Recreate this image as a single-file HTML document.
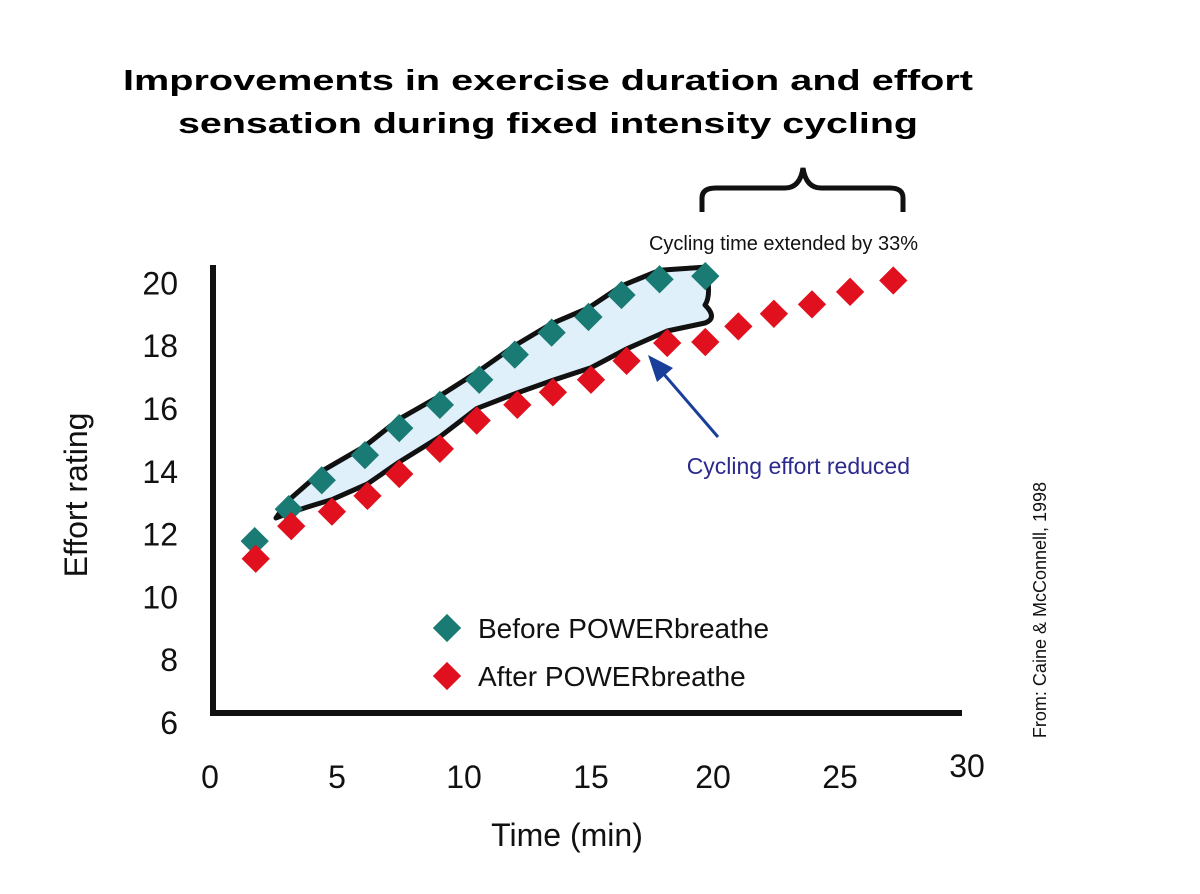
<!DOCTYPE html>
<html><head><meta charset="utf-8"><style>
body{margin:0;background:#fff;width:1200px;height:894px;overflow:hidden}
svg{display:block;font-family:"Liberation Sans",sans-serif}
</style></head><body>
<svg id="c" width="1200" height="894" viewBox="0 0 1200 894">
<text x="548" y="90" text-anchor="middle" font-size="29" font-weight="bold" textLength="850" lengthAdjust="spacingAndGlyphs">Improvements in exercise duration and effort</text>
<text x="548" y="133" text-anchor="middle" font-size="29" font-weight="bold" textLength="740" lengthAdjust="spacingAndGlyphs">sensation during fixed intensity cycling</text>
<path d="M702,212 V198 Q702,188 716,188 H785 Q800,188 803,168 Q806,188 821,188 H890 Q903,188 903,198 V212" fill="none" stroke="#111" stroke-width="5"/>
<text x="918" y="250" text-anchor="end" font-size="20" fill="#111">Cycling time extended by 33%</text>
<g id="shade"></g>
<g id="axes"></g>
<g id="marks"></g>
<line x1="718" y1="437" x2="662" y2="372" stroke="#1a3f9a" stroke-width="3"/>
<polygon points="648,355 673,368 657,382" fill="#1a3f9a"/>
<text x="910" y="474" text-anchor="end" font-size="23" fill="#2b2a8c">Cycling effort reduced</text>
<rect x="437" y="618" width="20" height="20" fill="#1a7a74" transform="rotate(45 447 628)"/>
<text x="478" y="638" font-size="28" fill="#111">Before POWERbreathe</text>
<rect x="437" y="666" width="20" height="20" fill="#e0101e" transform="rotate(45 447 676)"/>
<text x="478" y="686" font-size="28" fill="#111">After POWERbreathe</text>
<text transform="translate(87,495) rotate(-90)" text-anchor="middle" font-size="32" fill="#111">Effort rating</text>
<text x="567" y="846" text-anchor="middle" font-size="32" fill="#111">Time (min)</text>
<text transform="translate(1046,610) rotate(-90)" text-anchor="middle" font-size="18" fill="#111">From: Caine &amp; McConnell, 1998</text>
</svg>
<script>
const beforeTime=[1.76,3.1,4.4,6.1,7.45,9.05,10.6,12.0,13.45,14.9,16.2,17.7,19.5];
const beforeEffort=[11.76,12.78,13.7,14.5,15.36,16.1,16.9,17.7,18.4,18.9,19.6,20.1,20.2];
const afterTime=[1.8,3.2,4.8,6.2,7.45,9.05,10.5,12.1,13.5,15.0,16.4,18.0,19.5,20.8,22.2,23.7,25.2,26.9];
const afterEffort=[11.2,12.24,12.7,13.2,13.9,14.7,15.6,16.1,16.5,16.9,17.5,18.07,18.1,18.6,19.0,19.3,19.7,20.06];
const yTicks=[6,8,10,12,14,16,18,20];
const xTicks=[0,5,10,15,20,25,30];
const NS="http://www.w3.org/2000/svg";
const X=t=>210+t*25.4;
const Y=v=>722-(v-6)*31.4;
function mk(tag,attrs,parent){const e=document.createElementNS(NS,tag);for(const k in attrs)e.setAttribute(k,attrs[k]);document.getElementById(parent).appendChild(e);return e;}
let d="M276,518";
for(let i=1;i<beforeTime.length;i++){d+=" L"+X(beforeTime[i])+","+(Y(beforeEffort[i])-9);}
d+=" Q712,295 705,305 Q718,318 705,323";
const n=12;
for(let i=n-1;i>=2;i--){d+=" L"+X(afterTime[i])+","+(Y(afterEffort[i])-12);}
d+=" Q290,512 276,518 Z";
const sh=mk("path",{d:d,fill:"#dff0fa",stroke:"#111","stroke-width":5,"stroke-linejoin":"round"},"shade");


const ya=mk("line",{x1:213,y1:265,x2:213,y2:716,stroke:"#111","stroke-width":6},"axes");


const xa=mk("line",{x1:210,y1:713,x2:962,y2:713,stroke:"#111","stroke-width":6},"axes");


yTicks.forEach(v=>{const t=mk("text",{x:178,y:Y(v)+12,"text-anchor":"end","font-size":32,fill:"#111"},"axes");t.textContent=v;

});
xTicks.forEach(v=>{const t=mk("text",{x:X(v)+(v>=20?-5:0),y:v===30?777:788,"text-anchor":"middle","font-size":32,fill:"#111"},"axes");t.textContent=v;

});
function diamond(t,v,col,name){const x=X(t),y=Y(v);const r=mk("rect",{x:x-10,y:y-10,width:20,height:20,fill:col,transform:"rotate(45 "+x+" "+y+")"},"marks");

}
beforeTime.forEach((t,i)=>diamond(t,beforeEffort[i],"#1a7a74","before-point"));
afterTime.forEach((t,i)=>diamond(t,afterEffort[i],"#e0101e","after-point"));
</script>
</body></html>
